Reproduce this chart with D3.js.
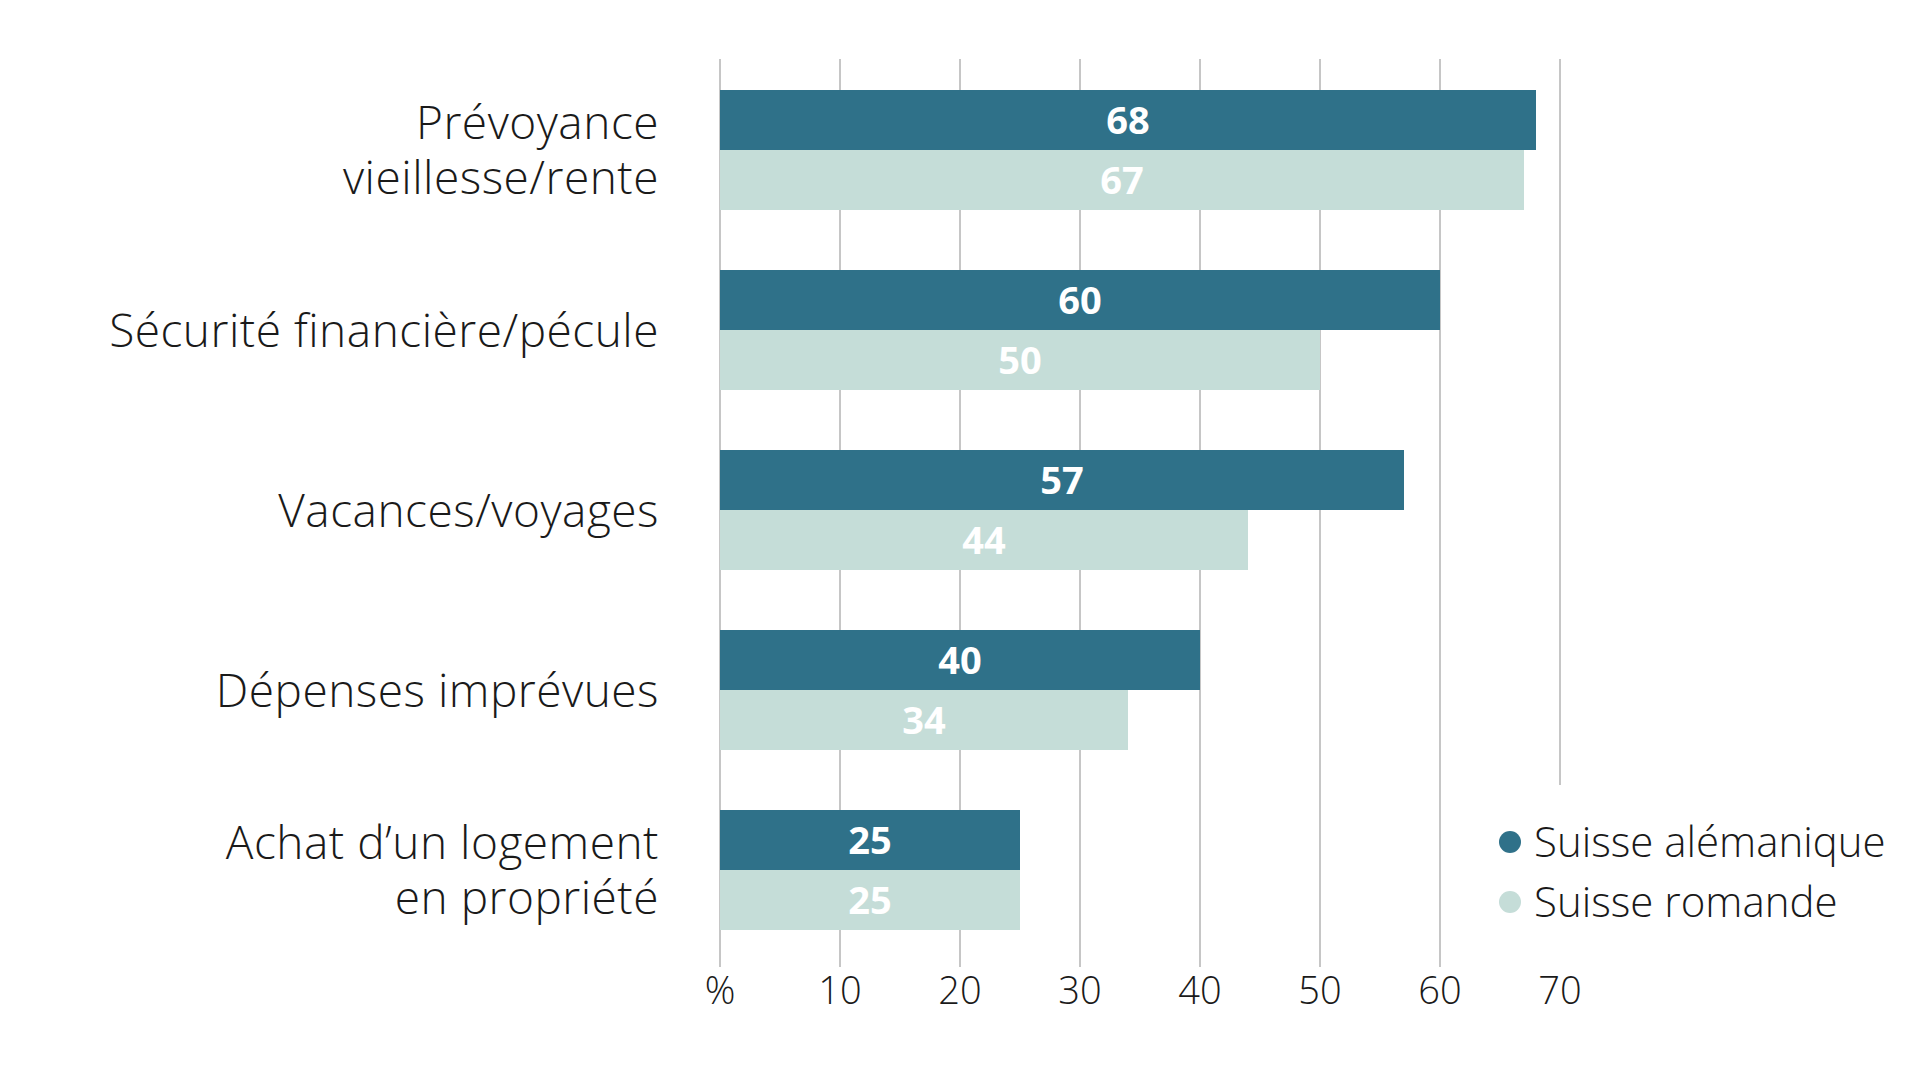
<!DOCTYPE html>
<html>
<head>
<meta charset="utf-8">
<script src="https://cdn.jsdelivr.net/npm/d3@7"></script>
<style>
  html, body { margin: 0; padding: 0; background: #fff; }
  svg { display: block; font-family: "Open Sans", "Noto Sans", sans-serif; }
</style>
</head>
<body>
<div id="chart"></div>
<script>
// data
const categories = [
    ["Prévoyance", "vieillesse/rente"],
    ["Sécurité financière/pécule"],
    ["Vacances/voyages"],
    ["Dépenses imprévues"],
    ["Achat d’un logement", "en propriété"]
];
const alemanique = [68, 60, 57, 40, 25];
const romande = [67, 50, 44, 34, 25];
const seriesNames = ["Suisse alémanique", "Suisse romande"];
const tickValues = [0, 10, 20, 30, 40, 50, 60, 70];
const tickLabels = ["%", "10", "20", "30", "40", "50", "60", "70"];

const colors = ["#2f7189", "#c5ddd8"];
const width = 1920, height = 1080;

const svg = d3.select('#chart').append('svg')
    .attr('width', width)
    .attr('height', height);

const x = d3.scaleLinear().domain([0, 70]).range([720, 1560]);
const y = d3.scaleBand()
    .domain(d3.range(categories.length))
    .range([60, 960])
    .paddingInner(1/3)
    .paddingOuter(1/6);
const sub = d3.scaleBand().domain([0, 1]).range([0, y.bandwidth()]);

const gridTop = 59, gridBottom = 967;

// grid lines
svg.append('g').selectAll('line')
    .data(tickValues)
    .enter().append('line')
    .attr('x1', d => x(d)).attr('x2', d => x(d))
    .attr('y1', gridTop)
    .attr('y2', d => d === 70 ? 785 : gridBottom)
    .attr('stroke', '#c6c6c6')
    .attr('stroke-width', 2);

// bars
const series = [alemanique, romande];
series.forEach((vals, s) => {
    const g = svg.append('g');
    g.selectAll('rect')
        .data(vals)
        .enter().append('rect')
        .attr('x', x(0))
        .attr('y', (d, i) => y(i) + sub(s))
        .attr('width', d => x(d) - x(0))
        .attr('height', sub.bandwidth())
        .attr('fill', colors[s]);
    g.selectAll('text')
        .data(vals)
        .enter().append('text')
        .attr('x', d => (x(d) + x(0)) / 2)
        .attr('y', (d, i) => y(i) + sub(s) + sub.bandwidth() / 2)
        .attr('dy', '0.36em')
        .attr('text-anchor', 'middle')
        .attr('fill', '#fff')
        .attr('font-weight', 700)
        .attr('font-size', 38)
        .text(d => d);
});

// category labels (one text per category, lines as tspans)
const lh = 55;
svg.append('g').selectAll('text')
    .data(categories)
    .enter().append('text')
    .attr('text-anchor', 'end')
    .attr('font-size', 46)
    .attr('letter-spacing', 0.5)
    .attr('font-weight', 300)
    .attr('fill', '#1a1a1a')
    .each(function(lines, i){
        const cy = y(i) + y.bandwidth() / 2;
        d3.select(this).selectAll('tspan')
            .data(lines)
            .enter().append('tspan')
            .attr('x', 659)
            .attr('y', (d, j) => cy + (j - (lines.length - 1) / 2) * lh)
            .attr('dy', '0.36em')
            .text(d => d);
    });

// x axis labels
svg.append('g').selectAll('text')
    .data(tickValues)
    .enter().append('text')
    .attr('x', d => x(d))
    .attr('y', 990)
    .attr('dy', '0.36em')
    .attr('text-anchor', 'middle')
    .attr('font-size', 38)
    .attr('font-weight', 300)
    .attr('fill', '#1a1a1a')
    .text((d, i) => tickLabels[i]);

// legend
const legend = svg.append('g');
seriesNames.forEach((name, i) => {
    const ly = 842 + i * 60;
    legend.append('circle')
        .attr('cx', 1510).attr('cy', ly)
        .attr('r', 11)
        .attr('fill', colors[i]);
    legend.append('text')
        .attr('x', 1534).attr('y', ly)
        .attr('dy', '0.36em')
        .attr('font-size', 42)
        .attr('font-weight', 300)
        .attr('fill', '#1a1a1a')
        .text(name);
});
</script>
</body>
</html>
